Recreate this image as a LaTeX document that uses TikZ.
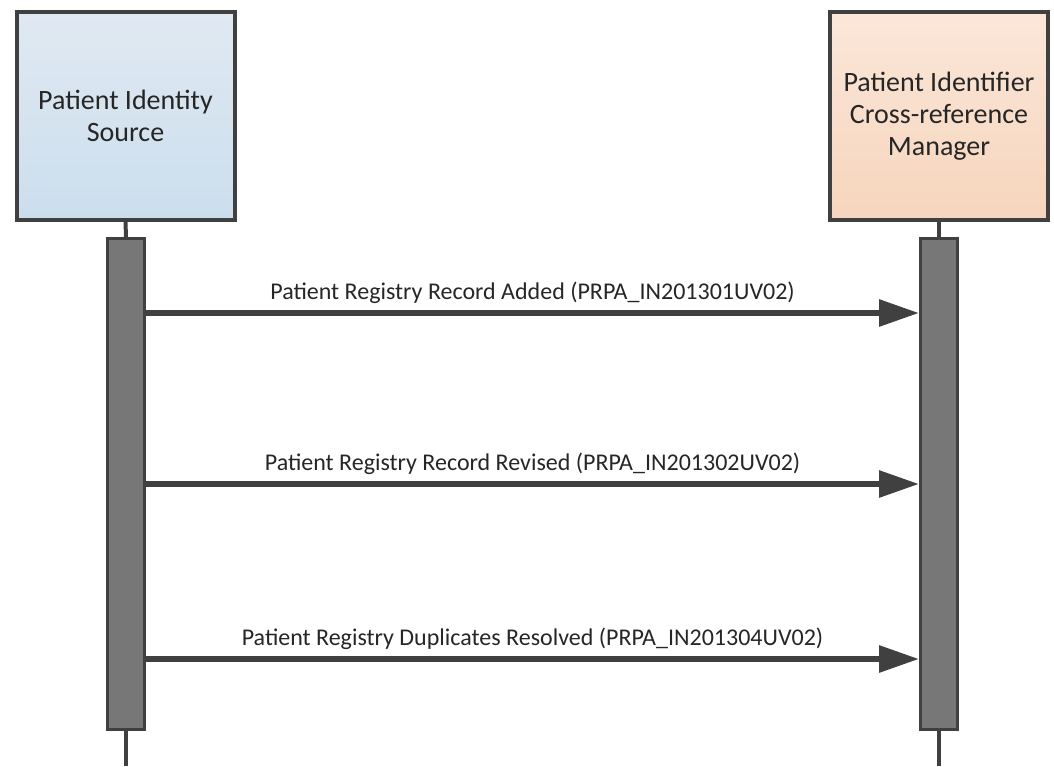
\documentclass[tikz,border=0pt]{standalone}
\usepackage{fontspec}
\setmainfont{Carlito}
\usetikzlibrary{arrows.meta}

\definecolor{edgegray}{HTML}{404040}
\definecolor{bargray}{HTML}{777777}

\begin{document}
\begin{tikzpicture}[x=1pt,y=-1pt]

    \tikzset{
      actor/.style={
        draw=edgegray,
        line width=4pt,
        minimum width=218pt,
        minimum height=208pt,
        align=center,
        font=\fontsize{28}{32}\selectfont,
        text=black!85,
      },
      lifebar/.style={
        draw=edgegray,
        fill=bargray,
        line width=3pt,
        minimum width=37pt,
        minimum height=491pt,
        inner sep=0pt,
      },
      stem/.style={
        draw=edgegray,
        line width=4pt,
      },
      msg/.style={
        draw=edgegray,
        line width=6pt,
        -{Triangle[length=40pt,width=26pt]},
      },
      msglabel/.style={
        font=\fontsize{24}{28}\selectfont,
        text=black!85,
        inner sep=2pt,
      },
    }
    \useasboundingbox (0,0) rectangle (1054,766);

	% participants
	\node[actor, top color={rgb,255:red,224;green,233;blue,242}, bottom color={rgb,255:red,203;green,222;blue,237}] (pis) at (125.5,116) {Patient Identity\\Source};
	\node[actor, top color={rgb,255:red,251;green,231;blue,217}, bottom color={rgb,255:red,246;green,213;blue,189}] (pixm) at (939,116) {Patient Identifier\\Cross-reference\\Manager};

	% activation bars
	\node[lifebar] (pisbar) at (126,484) {};
	\node[lifebar] (pixmbar) at (939,484) {};
	\coordinate (pisend) at (126,766);
	\coordinate (pixmend) at (939,766);

	\draw[stem] (pis.south) -- (pisbar.north);
	\draw[stem] (pixm.south) -- (pixmbar.north);
	\draw[stem] (pisbar.south) -- (pisend);
	\draw[stem] (pixmbar.south) -- (pixmend);

	% messages
	\foreach \y/\txt in {313/Patient Registry Record Added (PRPA\_IN201301UV02),
	                     484/Patient Registry Record Revised (PRPA\_IN201302UV02),
	                     659/Patient Registry Duplicates Resolved (PRPA\_IN201304UV02)}{
	  \draw[msg] (pisbar.east |- 0,\y) -- node[msglabel, above=4pt] {\txt} (pixmbar.west |- 0,\y);
	}

\end{tikzpicture}
\end{document}
